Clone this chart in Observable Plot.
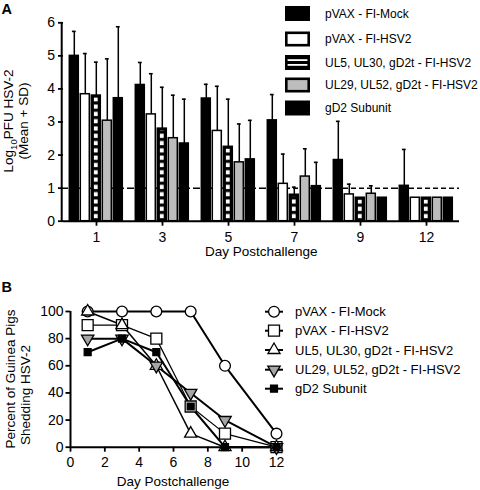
<!DOCTYPE html>
<html><head><meta charset="utf-8">
<script src="https://cdn.jsdelivr.net/npm/d3@7"></script>
<script src="https://cdn.jsdelivr.net/npm/@observablehq/plot@0.6"></script>
<style>
body{margin:0;background:#fff;}
#wrap{width:480px;height:490px;position:relative;}
svg{display:block;overflow:visible}
</style></head><body><div id="wrap"></div>
<script>
// ---------- data ----------
const days = [1, 3, 5, 7, 9, 12];
const groups = ["pVAX - FI-Mock", "pVAX - FI-HSV2", "UL5, UL30, gD2t - FI-HSV2", "UL29, UL52, gD2t - FI-HSV2", "gD2 Subunit"];
// Panel A: Log10 PFU HSV-2, mean and SD
const logMock = [5.00, 4.12, 3.71, 3.05, 1.85, 1.07];
const logHSV2 = [3.84, 3.23, 2.73, 1.13, 0.81, 0.71];
const logUL5  = [3.80, 2.80, 2.25, 0.80, 0.71, 0.71];
const logUL29 = [3.04, 2.51, 1.78, 1.35, 0.83, 0.71];
const logGD2  = [3.72, 2.35, 1.87, 1.06, 0.71, 0.71];
const sdMock = [0.74, 0.68, 0.43, 0.78, 1.17, 1.10];
const sdHSV2 = [1.23, 1.23, 1.35, 0.90, 0.31, 0];
const sdUL5  = [1.01, 1.25, 1.44, 0.23, 0, 0];
const sdUL29 = [1.87, 1.30, 1.16, 0.84, 0.24, 0];
const sdGD2  = [2.16, 1.34, 1.18, 0.72, 0, 0];
const detectionLimit = 1;
const yTicksA = [0, 1, 2, 3, 4, 5, 6];
// Panel B: percent shedding
const pctMock = [100, 100, 100, 100, 60, 10];
const pctHSV2 = [90, 90, 80, 30, 10, 0];
const pctUL5  = [100, 90, 60, 10, 0, 0];
const pctUL29 = [80, 80, 60, 40, 20, 0];
const pctGD2  = [70, 80, 70, 30, 0, 0];
const xTicksB = [0, 2, 4, 6, 8, 10, 12];
const yTicksB = [0, 20, 40, 60, 80, 100];

// ---------- tables ----------
const means = [logMock, logHSV2, logUL5, logUL29, logGD2];
const sds = [sdMock, sdHSV2, sdUL5, sdUL29, sdGD2];
const barData = [];
groups.forEach((g, gi) => days.forEach((d, di) => {
  barData.push({day: d, group: g, gi, mean: means[gi][di], top: sds[gi][di] > 0 ? means[gi][di] + sds[gi][di] : null});
}));
const pcts = [pctMock, pctHSV2, pctUL5, pctUL29, pctGD2];
const lineData = [];
groups.forEach((g, gi) => days.forEach((d, di) => lineData.push({series: g, gi, day: d, value: pcts[gi][di]})));

const FONT = "Liberation Sans, Arial, Helvetica, sans-serif";
const barFill = ["black", "white", "black", "#bdbdbd", "black"];
const grayB = "#a6a6a6";

// ---------- panel A ----------
const plotA = Plot.plot({
  width: 480, height: 280,
  marginLeft: 61.7, marginRight: 19.3, marginTop: 22.3, marginBottom: 59.3,
  style: {fontFamily: FONT, fontSize: "14px", color: "black", background: "white"},
  fx: {domain: days, paddingInner: 0, paddingOuter: 0},
  x: {domain: groups, axis: null, paddingInner: 0.18, paddingOuter: 0.45},
  y: {domain: [0, 6]},
  color: {type: "identity"},
  marks: [
    Plot.ruleY([detectionLimit], {stroke: "black", strokeWidth: 1.5, strokeDasharray: "5,3"}),
    Plot.barY(barData, {fx: "day", x: "group", y: "mean", fill: d => barFill[d.gi], stroke: "black", strokeWidth: 1.5}),
    Plot.barY(barData.filter(d => d.gi === 2), {fx: "day", x: "group", y: "mean", fill: "url(#stripesA)", insetLeft: 2.6, insetRight: 2.6, insetTop: 2.4, insetBottom: 1}),
    Plot.ruleX(barData.filter(d => d.top != null), {fx: "day", x: "group", y1: "mean", y2: "top", stroke: "black", strokeWidth: 1.5}),
    Plot.tickY(barData.filter(d => d.top != null), {fx: "day", x: "group", y: "top", stroke: "black", strokeWidth: 1.6, insetLeft: 2.6, insetRight: 2.6}),
    Plot.ruleY([0], {stroke: "black", strokeWidth: 2}),
    Plot.axisY({ticks: yTicksA, tickFormat: d => String(d), tickSize: 5, tickPadding: 3.5, strokeWidth: 1.8, label: null}),
    Plot.axisFx({anchor: "bottom", tickFormat: d => String(d), tickSize: 5, tickPadding: 5.5, strokeWidth: 1.8, label: null})
  ]
});
document.getElementById("wrap").appendChild(plotA);
{
  const svg = d3.select(plotA);
  const defs = svg.insert("defs", ":first-child");
  const pat = defs.append("pattern").attr("id", "stripesA").attr("patternUnits", "userSpaceOnUse").attr("width", 10).attr("height", 7.3);
  pat.append("rect").attr("width", 10).attr("height", 7.3).attr("fill", "black");
  pat.append("rect").attr("y", 2.3).attr("width", 10).attr("height", 4.2).attr("fill", "white");
  const sy = plotA.scale("y"), sfx = plotA.scale("fx");
  const x0 = sfx.range[0];
  svg.append("line").attr("x1", x0).attr("x2", x0).attr("y1", sy.apply(0) + 1).attr("y2", sy.apply(6)).attr("stroke", "black").attr("stroke-width", 2);
  const t = svg.append("g").attr("font-family", FONT).attr("fill", "black").attr("text-anchor", "start");
  t.append("text").attr("x", 1.5).attr("y", 14).attr("font-size", 14.5).attr("font-weight", "bold").text("A");
  const yl = t.append("text").attr("transform", "translate(13,121) rotate(-90)").attr("text-anchor", "middle").attr("font-size", 13.5);
  yl.append("tspan").text("Log");
  yl.append("tspan").attr("font-size", 9.5).attr("dy", 3.5).text("10");
  yl.append("tspan").attr("dy", -3.5).text("PFU HSV-2");
  t.append("text").attr("transform", "translate(27.5,121) rotate(-90)").attr("text-anchor", "middle").attr("font-size", 13.5).text("(Mean + SD)");
  t.append("text").attr("x", (sfx.range[0] + sfx.range[1]) / 2).attr("y", 256).attr("text-anchor", "middle").attr("font-size", 13.5).text("Day Postchallenge");
  // legend
  const rows = [13.5, 39, 62.5, 85, 108];
  const lg = svg.append("g").attr("text-anchor", "start");
  groups.forEach((g, i) => {
    const cy = rows[i], x = 285, w = 25, h = 15, y = cy - h / 2;
    if (i === 1 || i === 3) {
      lg.append("rect").attr("x", x + 1.3).attr("y", y + 1.3).attr("width", w - 2.6).attr("height", h - 2.6).attr("fill", barFill[i]).attr("stroke", "black").attr("stroke-width", 2.6);
    } else {
      lg.append("rect").attr("x", x).attr("y", y).attr("width", w).attr("height", h).attr("fill", "black");
      if (i === 2) {
        lg.append("rect").attr("x", x + 2.6).attr("y", y + 4.2).attr("width", w - 5.2).attr("height", 1.8).attr("fill", "white");
        lg.append("rect").attr("x", x + 2.6).attr("y", y + 9.0).attr("width", w - 5.2).attr("height", 1.8).attr("fill", "white");
      }
    }
    lg.append("text").attr("x", 325).attr("y", cy).attr("dy", "0.36em").attr("font-family", FONT).attr("font-size", 12).text(g);
  });
}

// ---------- panel B ----------
const triDown = {
  draw(context, size) {
    const y = -Math.sqrt(size / (Math.sqrt(3) * 3));
    context.moveTo(0, -2 * y);
    context.lineTo(-Math.sqrt(3) * y, y);
    context.lineTo(Math.sqrt(3) * y, y);
    context.closePath();
  }
};
const symB = ["circle", "square", "triangle", triDown, "square"];
const rB = [5.4, 6.2, 4.5, 4.6, 3.9];
const fillB = ["white", "white", "white", grayB, "black"];
const swB = [2, 1.2, 1.5, 2, 2];

const plotB = Plot.plot({
  width: 480, height: 210,
  marginLeft: 70, marginRight: 204, marginTop: 31, marginBottom: 43.3,
  style: {fontFamily: FONT, fontSize: "14px", color: "black", background: "white"},
  x: {domain: [0, 12]},
  y: {domain: [0, 100]},
  marks: [
    Plot.ruleY([0], {stroke: "black", strokeWidth: 2}),
    Plot.ruleX([0], {stroke: "black", strokeWidth: 2}),
    Plot.axisX({ticks: xTicksB, tickSize: 5, tickPadding: 4.5, strokeWidth: 1.8, label: null}),
    Plot.axisY({ticks: yTicksB, tickSize: 4.5, tickPadding: 2.5, strokeWidth: 1.8, label: null}),
    ...groups.map((g, gi) => Plot.line(lineData.filter(d => d.gi === gi), {x: "day", y: "value", stroke: "black", strokeWidth: swB[gi]})),
    ...groups.map((g, gi) => Plot.dot(lineData.filter(d => d.gi === gi), {x: "day", y: "value", symbol: symB[gi], r: rB[gi], fill: fillB[gi], stroke: "black", strokeWidth: 1.3}))
  ]
});
document.getElementById("wrap").appendChild(plotB);
{
  const svg = d3.select(plotB);
  const sx = plotB.scale("x");
  const t = svg.append("g").attr("font-family", FONT).attr("fill", "black").attr("text-anchor", "start");
  t.append("text").attr("x", 1.5).attr("y", 12).attr("font-size", 14.5).attr("font-weight", "bold").text("B");
  t.append("text").attr("transform", "translate(10.5,99) rotate(-90)").attr("text-anchor", "middle").attr("dy", "0.36em").attr("font-size", 13.5).text("Percent of Guinea Pigs");
  t.append("text").attr("transform", "translate(25.5,115) rotate(-90)").attr("text-anchor", "middle").attr("dy", "0.36em").attr("font-size", 13.5).text("Shedding HSV-2");
  t.append("text").attr("x", (sx.apply(0) + sx.apply(12)) / 2).attr("y", 206).attr("text-anchor", "middle").attr("font-size", 13.5).text("Day Postchallenge");
  const rows = [31.7, 50.7, 70, 89.7, 108.7];
  const lg = svg.append("g").attr("text-anchor", "start");
  const symMap = {circle: d3.symbolCircle, square: d3.symbolSquare, triangle: d3.symbolTriangle};
  groups.forEach((g, i) => {
    const cy = rows[i];
    lg.append("line").attr("x1", 265).attr("x2", 283).attr("y1", cy).attr("y2", cy).attr("stroke", "black").attr("stroke-width", 2);
    const s = typeof symB[i] === "string" ? symMap[symB[i]] : symB[i];
    lg.append("path").attr("transform", `translate(274,${cy})`).attr("d", d3.symbol(s, rB[i] * rB[i] * Math.PI)()).attr("fill", fillB[i]).attr("stroke", "black").attr("stroke-width", 1.3);
    lg.append("text").attr("x", 295).attr("y", cy).attr("dy", "0.36em").attr("font-family", FONT).attr("font-size", 13).text(g);
  });
}
</script>
</body></html>
